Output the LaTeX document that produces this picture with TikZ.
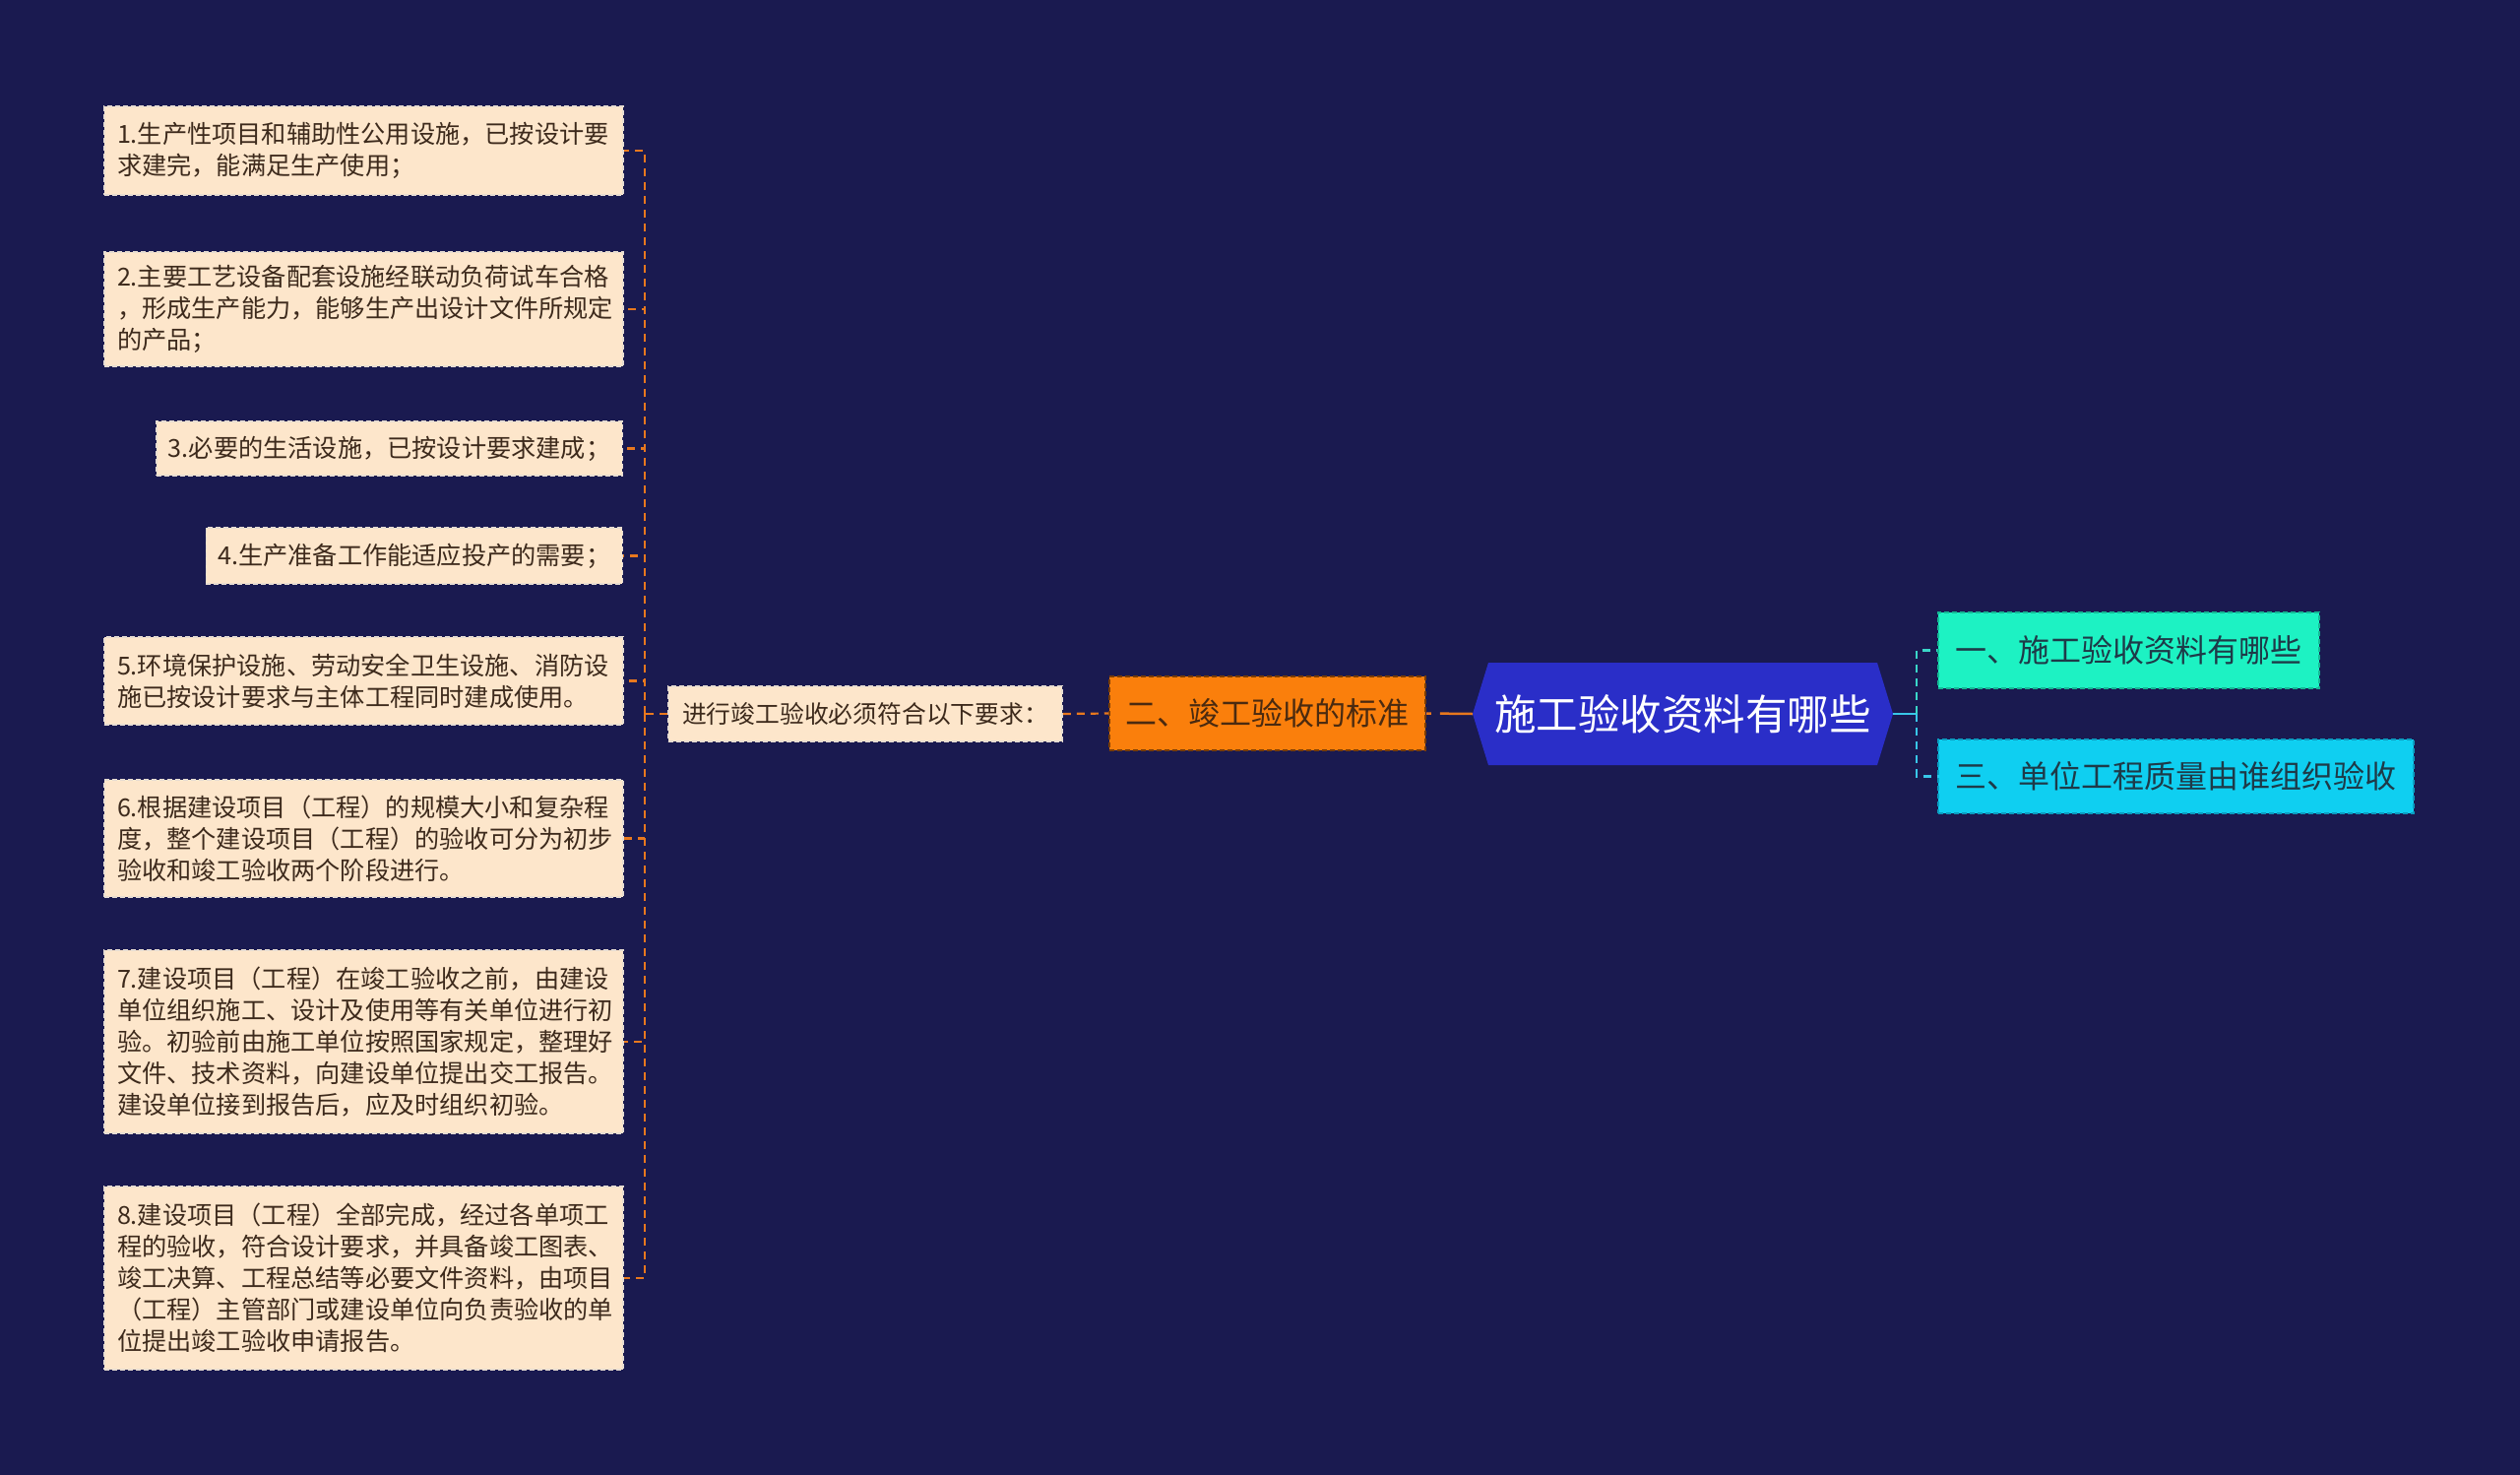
\documentclass[tikz,border=0pt]{standalone}
\usepackage{fontspec}
\setmainfont{Noto Sans CJK SC}
\definecolor{bg}{HTML}{1A1A50}
\definecolor{leaffill}{HTML}{FDE6CB}
\definecolor{leafborder}{HTML}{E6DCD2}
\definecolor{leaftext}{HTML}{3D2A1C}
\definecolor{stdfill}{HTML}{FA7F0C}
\definecolor{stdborder}{HTML}{7A3D05}
\definecolor{stdtext}{HTML}{4A2A10}
\definecolor{rootfill}{HTML}{2A2EC8}
\definecolor{aquafill}{HTML}{1DF2C3}
\definecolor{aquaborder}{HTML}{14B894}
\definecolor{cyanfill}{HTML}{0FCFF1}
\definecolor{cyanborder}{HTML}{0A9CC0}
\definecolor{boxtextdark}{HTML}{1E3A48}
\definecolor{orangeline}{HTML}{E8781E}
\definecolor{aqualine}{HTML}{3AD6C8}
\definecolor{cyanline}{HTML}{38C6E8}
\begin{document}
\begin{tikzpicture}[x=1pt,y=-1pt,
  leaf/.style={fill=leaffill, draw=leafborder, dash pattern=on 5pt off 3pt, line width=1.5pt,
    text=leaftext, font=\fontsize{25.2pt}{32pt}\selectfont, inner xsep=13pt, inner ysep=0pt,
    align=left, text width=501pt},
  leafshort/.style={fill=leaffill, draw=leafborder, dash pattern=on 5pt off 3pt, line width=1.5pt,
    text=leaftext, font=\fontsize{25.2pt}{32pt}\selectfont, inner xsep=12pt, inner ysep=0pt, anchor=east},
  olink/.style={draw=orangeline, line width=2.2pt, dash pattern=on 8pt off 6pt},
  clink/.style={line width=2.5pt, dash pattern=on 8pt off 6pt},
  branch/.style={line width=1.5pt, dash pattern=on 5pt off 3pt, font=\fontsize{32pt}{38pt}\selectfont, inner sep=0pt}
]
\fill[bg] (0,0) rectangle (2560,1498);
\useasboundingbox (0,0) rectangle (2560,1498);

% root hexagon
\fill[rootfill] (1496,725) -- (1512,673) -- (1907,673) -- (1923,725) -- (1907,777) -- (1512,777) -- cycle;
\node[text=white, font=\fontsize{42.5pt}{48pt}\selectfont, minimum width=427pt, minimum height=104pt, inner sep=0pt] (root) at (1709.5,725) {施工验收资料有哪些};

% right branches
\node[branch, fill=aquafill, draw=aquaborder, text=boxtextdark, minimum width=387pt, minimum height=77pt] (c1) at (2162.5,660.5) {一、施工验收资料有哪些};
\node[branch, fill=cyanfill, draw=cyanborder, text=boxtextdark, minimum width=483pt, minimum height=75pt] (c2) at (2210.5,788.5) {三、单位工程质量由谁组织验收};
\coordinate (rj) at (1947,725);
\draw[cyanline, line width=2.5pt] (root.east) -- (rj);
\draw[aqualine, clink] (rj) |- (c1.west);
\draw[cyanline, clink] (rj) |- (c2.west);

% left branch
\node[branch, fill=stdfill, draw=stdborder, text=stdtext, minimum width=321pt, minimum height=75pt] (std) at (1287.5,724.5) {二、竣工验收的标准};
\draw[draw=orangeline, line width=2.5pt, dash pattern=on 5pt off 9pt on 40pt off 4pt] (std.east) -- (root.west);

\node[fill=leaffill, draw=leafborder, dash pattern=on 5pt off 3pt, line width=1.5pt, text=leaftext,
  font=\fontsize{24.8pt}{30pt}\selectfont, minimum width=400pt, minimum height=56pt, inner sep=0pt] (req) at (879,725) {进行竣工验收必须符合以下要求：};
\draw[olink] (req.east) -- (std.west);

\node[leaf, minimum height=90pt] (b1) at (369.5,153) {1.生产性项目和辅助性公用设施，已按设计要\\求建完，能满足生产使用；};
\node[leaf, minimum height=116pt] (b2) at (369.5,314) {2.主要工艺设备配套设施经联动负荷试车合格\\，形成生产能力，能够生产出设计文件所规定\\的产品；};
\node[leafshort, minimum height=55pt] (b3) at (633,455.5) {3.必要的生活设施，已按设计要求建成；};
\node[leafshort, minimum height=57pt] (b4) at (633,564.5) {4.生产准备工作能适应投产的需要；};
\node[leaf, minimum height=89pt] (b5) at (369.5,691.5) {5.环境保护设施、劳动安全卫生设施、消防设\\施已按设计要求与主体工程同时建成使用。};
\node[leaf, minimum height=119pt] (b6) at (369.5,851.5) {6.根据建设项目（工程）的规模大小和复杂程\\度，整个建设项目（工程）的验收可分为初步\\验收和竣工验收两个阶段进行。};
\node[leaf, minimum height=186pt] (b7) at (369.5,1058) {7.建设项目（工程）在竣工验收之前，由建设\\单位组织施工、设计及使用等有关单位进行初\\验。初验前由施工单位按照国家规定，整理好\\文件、技术资料，向建设单位提出交工报告。\\建设单位接到报告后，应及时组织初验。};
\node[leaf, minimum height=186pt] (b8) at (369.5,1298) {8.建设项目（工程）全部完成，经过各单项工\\程的验收，符合设计要求，并具备竣工图表、\\竣工决算、工程总结等必要文件资料，由项目\\（工程）主管部门或建设单位向负责验收的单\\位提出竣工验收申请报告。};

\coordinate (lj) at (655,725);
\draw[olink] (req.west) -- (lj);
\foreach \b in {b1,b2,b3,b4,b5,b6,b7,b8} {
  \draw[olink] (lj) |- (\b.east);
}
\end{tikzpicture}
\end{document}
